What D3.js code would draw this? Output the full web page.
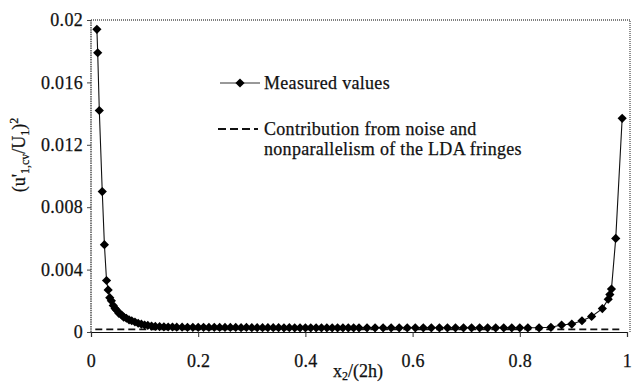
<!DOCTYPE html>
<html><head><meta charset="utf-8">
<script src="https://cdn.jsdelivr.net/npm/d3@7"></script>
<style>
html,body{margin:0;padding:0;background:#fff;}
svg text{font-family:"Liberation Serif","DejaVu Serif",serif !important;fill:#111;stroke:#111;stroke-width:0.25px;}
</style></head>
<body><svg id="c" width="632" height="386"></svg>
<script>
const xVals = [0.011,0.0125,0.0155,0.021,0.025,0.029,0.032,0.035,0.038,0.0415,0.045,0.048,0.052,0.057,0.061,0.066,0.071,0.076,0.082,0.088,0.094,0.100,0.106,0.113,0.120,0.128,0.136,0.144,0.152,0.160,0.170,0.180,0.190,0.200,0.210,0.220,0.230,0.240,0.250,0.260,0.270,0.280,0.290,0.300,0.310,0.320,0.330,0.340,0.350,0.360,0.370,0.380,0.390,0.400,0.410,0.420,0.430,0.440,0.450,0.460,0.470,0.480,0.490,0.500,0.515,0.530,0.545,0.560,0.575,0.590,0.605,0.620,0.635,0.650,0.665,0.680,0.695,0.710,0.725,0.740,0.755,0.770,0.785,0.800,0.815,0.836,0.858,0.878,0.897,0.916,0.934,0.954,0.965,0.968,0.971,0.979,0.991];
const measured = [0.0194,0.0179,0.0142,0.0090,0.0056,0.0033,0.0027,0.0022,0.0020,0.0017,0.0015,0.0014,0.0012,0.0011,0.00095,0.00088,0.00078,0.00072,0.00064,0.00056,0.00050,0.00045,0.00042,0.00038,0.00036,0.00034,0.00033,0.00032,0.00032,0.00031,0.00031,0.00030,0.00030,0.00030,0.00030,0.00029,0.00030,0.00029,0.00029,0.00029,0.00029,0.00028,0.00029,0.00028,0.00028,0.00028,0.00028,0.00028,0.00028,0.00027,0.00028,0.00027,0.00027,0.00027,0.00027,0.00027,0.00027,0.00027,0.00027,0.00027,0.00027,0.00027,0.00027,0.00027,0.00027,0.00027,0.00027,0.00027,0.00027,0.00027,0.00027,0.00027,0.00027,0.00027,0.00027,0.00027,0.00027,0.00027,0.00027,0.00027,0.00027,0.00027,0.00027,0.00027,0.00027,0.00027,0.00030,0.00045,0.00051,0.00072,0.00100,0.00150,0.00210,0.00240,0.00275,0.00600,0.01370];
const noiseX = [0.008,0.988];
const noiseY = [0.00017,0.00017];
const xTicks = [0,0.2,0.4,0.6,0.8,1];
const xTickLabels = ["0","0.2","0.4","0.6","0.8","1"];
const yTicks = [0,0.004,0.008,0.012,0.016,0.02];
const yTickLabels = ["0","0.004","0.008","0.012","0.016","0.02"];
const legendLabels = ["Measured values","Contribution from noise and","nonparallelism of the LDA fringes"];

const svg = d3.select("#c");
const L=91, R=627, T=20, B=332;
const x = d3.scaleLinear().domain([0,1]).range([L,R]);
const y = d3.scaleLinear().domain([0,0.02]).range([B,T]);
const FS = 18;
const FONT = "'Liberation Serif','DejaVu Serif',serif";

// frame (dotted)
svg.append("path").attr("d",`M${L},${T}H${R+3}V${B}`).attr("fill","none")
  .attr("stroke","#555").attr("stroke-width",1.3).attr("stroke-dasharray","1,1");
svg.append("line").attr("x1",L).attr("x2",L).attr("y1",T).attr("y2",B)
  .attr("stroke","#444").attr("stroke-width",1.4).attr("stroke-dasharray","1.5,0.8");

// axes
const xAxis = d3.axisBottom(x).tickValues(xTicks).tickFormat((d,i)=>xTickLabels[i]).tickSize(5).tickPadding(17);
const gx = svg.append("g").attr("transform",`translate(0,${B})`).call(xAxis);
gx.attr("font-family",FONT);
gx.select(".domain").attr("stroke","#111").attr("stroke-width",1.2);
gx.selectAll(".tick line").attr("stroke","#333");
gx.selectAll("text").attr("font-size",FS).style("font-family",FONT).attr("fill","#111").attr("letter-spacing","0.3");

const yAxis = d3.axisLeft(y).tickValues(yTicks).tickFormat((d,i)=>yTickLabels[i]).tickSize(4).tickPadding(4);
const gy = svg.append("g").attr("transform",`translate(${L},0)`).call(yAxis);
gy.attr("font-family",FONT);
gy.select(".domain").remove();
gy.selectAll(".tick line").attr("stroke","#444");
gy.selectAll("text").attr("font-size",FS).style("font-family",FONT).attr("fill","#111").attr("letter-spacing","0.3");

// noise dashed line
const data = xVals.map((v,i)=>({x:v,y:measured[i]}));
svg.append("path").datum(noiseX.map((v,i)=>({x:v,y:noiseY[i]})))
  .attr("d",d3.line().x(d=>x(d.x)).y(d=>y(d.y)))
  .attr("fill","none").attr("stroke","#111").attr("stroke-width",1.8).attr("stroke-dasharray","7,4");

// measured line
svg.append("path").datum(data).attr("d",d3.line().x(d=>x(d.x)).y(d=>y(d.y)))
  .attr("fill","none").attr("stroke","#111").attr("stroke-width",1.1);
const diamond = d3.symbol().type(d3.symbolDiamond2).size(54);
svg.append("g").selectAll("path").data(data).join("path")
  .attr("d",diamond).attr("transform",d=>`translate(${x(d.x)},${y(d.y)})`).attr("fill","#000");

// legend
const lg = svg.append("g").style("font-family",FONT);
lg.append("line").attr("x1",220).attr("x2",260).attr("y1",83).attr("y2",83).attr("stroke","#333").attr("stroke-width",1);
lg.append("path").attr("d",diamond).attr("transform","translate(240,83)").attr("fill","#000");
lg.append("text").attr("x",264).attr("y",89).attr("font-size",FS).style("font-family",FONT).attr("letter-spacing","0.3").text(legendLabels[0]);
lg.append("line").attr("x1",218).attr("x2",258).attr("y1",129).attr("y2",129).attr("stroke","#111").attr("stroke-width",2).attr("stroke-dasharray","8,4");
lg.append("text").attr("x",264).attr("y",135).attr("font-size",FS).style("font-family",FONT).attr("letter-spacing","0.3").text(legendLabels[1]);
lg.append("text").attr("x",264).attr("y",155).attr("font-size",FS).style("font-family",FONT).attr("letter-spacing","0.3").text(legendLabels[2]);

// x title
const xt = svg.append("text").attr("x",358).attr("y",377).attr("text-anchor","middle").attr("font-size",FS).style("font-family",FONT);
xt.append("tspan").text("x");
xt.append("tspan").attr("dy",3).attr("font-size",12).text("2");
xt.append("tspan").attr("dy",-3).text("/(2h)");

// y title
const yt = svg.append("text").attr("transform","translate(25,155) rotate(-90)").attr("text-anchor","middle").attr("font-size",FS).style("font-family",FONT);
yt.append("tspan").text("(u'");
yt.append("tspan").attr("dy",4).attr("font-size",12).text("1,cv");
yt.append("tspan").attr("dy",-4).text("/U");
yt.append("tspan").attr("dy",4).attr("font-size",12).text("1");
yt.append("tspan").attr("dy",-4).text(")");
yt.append("tspan").attr("dy",-7).attr("font-size",12).text("2");
</script></body></html>
